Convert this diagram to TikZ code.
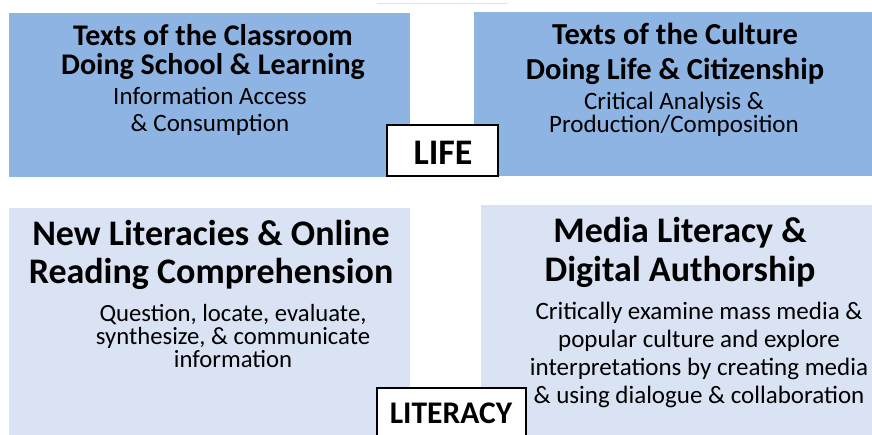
\documentclass[tikz,border=0pt]{standalone}
\usepackage{fontspec}
\setmainfont{Carlito}
\definecolor{topblue}{HTML}{8EB4E3}
\definecolor{lowblue}{HTML}{DAE3F3}
\definecolor{faint}{HTML}{E4E2DC}
\begin{document}
\begin{tikzpicture}[x=1pt,y=-1pt,
  panel/.style={inner sep=0pt,outer sep=0pt,anchor=north west},
  toppanel/.style={panel,fill=topblue},
  lowpanel/.style={panel,fill=lowblue},
  txt/.style={inner sep=0pt,outer sep=0pt,anchor=base,align=center,text=black},
  tag/.style={draw=black,line width=2pt,fill=white,inner sep=0pt,outer sep=0pt,anchor=north west}
]
\useasboundingbox (0,0) rectangle (872,435);
\clip (0,0) rectangle (872,435);
\draw[faint,line width=1pt] (377,4) -- (508,4);
% panels
\node[toppanel,minimum width=401pt,minimum height=164pt] (tl) at (9,13) {};
\node[toppanel,minimum width=398pt,minimum height=164pt] (tr) at (474,12) {};
\node[lowpanel,minimum width=401pt,minimum height=230pt] (bl) at (9,208) {};
\node[lowpanel,minimum width=391pt,minimum height=232pt] (br) at (481,205) {};
% texts (anchor = baseline of last line)
\node[txt,font=\fontsize{30}{29.5}\selectfont\bfseries] (tlt) at (213,75) {Texts of the Classroom\\Doing School \& Learning};
\node[txt,font=\fontsize{25}{27.5}\selectfont] (tls) at (210,132) {Information Access\\\& Consumption};
\node[txt,font=\fontsize{30.5}{35}\selectfont\bfseries] (trt) at (675,80) {Texts of the Culture\\Doing Life \& Citizenship};
\node[txt,font=\fontsize{25}{23.5}\selectfont] (trs) at (674,133) {Critical Analysis \&\\Production/Composition};
\node[txt,font=\fontsize{36}{38}\selectfont\bfseries] (blt) at (211,284) {New Literacies \& Online\\Reading Comprehension};
\node[txt,font=\fontsize{24.7}{23}\selectfont] (bls) at (233,367) {Question, locate, evaluate,\\synthesize, \& communicate\\information};
\node[txt,font=\fontsize{36}{39}\selectfont\bfseries] (brt) at (680,282) {Media Literacy \&\\Digital Authorship};
\node[txt,font=\fontsize{25}{27.7}\selectfont] (brs) at (699,403) {Critically examine mass media \&\\popular culture and explore\\interpretations by creating media\\\& using dialogue \& collaboration};
% tags
\node[tag,minimum width=111pt,minimum height=51pt] (life) at (387,125) {};
\node[txt,font=\fontsize{36}{36}\selectfont\bfseries] (lifet) at (443,165) {LIFE};
\node[tag,minimum width=149pt,minimum height=70pt] (lit) at (377,388) {};
\node[txt,font=\fontsize{31.5}{31.5}\selectfont\bfseries] (litt) at (451,423) {LITERACY};
\end{tikzpicture}
\end{document}
